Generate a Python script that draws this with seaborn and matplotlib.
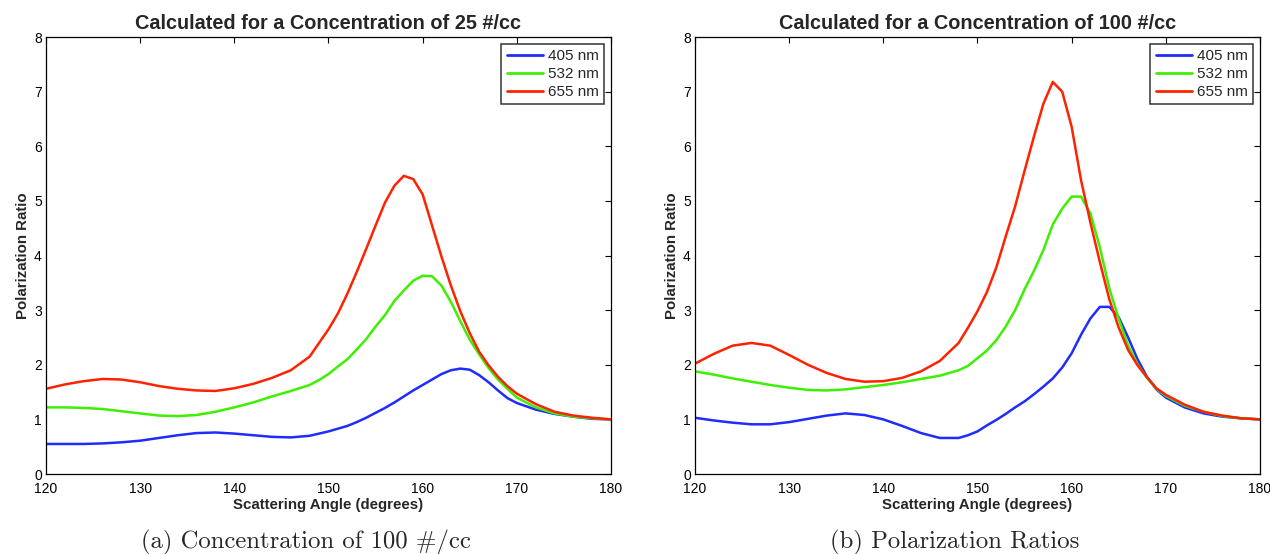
import numpy as np
import pandas as pd
import seaborn as sns
import matplotlib.pyplot as plt

angle = [120, 122, 124, 126, 128, 130, 132, 134, 136, 138, 140, 142, 144, 146, 148,
         149, 150, 151, 152, 153, 154, 155, 156, 157, 158, 159, 160, 161, 162, 163,
         164, 165, 166, 167, 168, 169, 170, 172, 174, 176, 178, 180]

# panel (a): 25 #/cc
a_405 = [0.55, 0.55, 0.55, 0.56, 0.58, 0.61, 0.66, 0.71, 0.75, 0.76, 0.74, 0.71, 0.68, 0.67, 0.70,
         0.74, 0.78, 0.83, 0.88, 0.95, 1.03, 1.12, 1.21, 1.31, 1.42, 1.53, 1.63, 1.73, 1.83, 1.90,
         1.93, 1.91, 1.81, 1.68, 1.53, 1.39, 1.30, 1.18, 1.10, 1.05, 1.01, 1.00]
a_532 = [1.22, 1.22, 1.21, 1.19, 1.15, 1.11, 1.07, 1.06, 1.08, 1.14, 1.22, 1.31, 1.42, 1.52, 1.63,
         1.72, 1.83, 1.97, 2.10, 2.28, 2.47, 2.70, 2.91, 3.17, 3.36, 3.54, 3.63, 3.62, 3.45, 3.15,
         2.80, 2.46, 2.19, 1.94, 1.73, 1.56, 1.40, 1.22, 1.11, 1.05, 1.02, 1.00]
a_655 = [1.56, 1.64, 1.70, 1.74, 1.73, 1.68, 1.61, 1.56, 1.53, 1.52, 1.57, 1.65, 1.76, 1.90, 2.15,
         2.40, 2.65, 2.94, 3.30, 3.70, 4.12, 4.55, 4.97, 5.28, 5.46, 5.40, 5.12, 4.55, 3.98, 3.45,
         2.98, 2.58, 2.24, 1.99, 1.78, 1.61, 1.47, 1.28, 1.14, 1.07, 1.03, 1.00]

# panel (b): 100 #/cc
b_405 = [1.03, 0.98, 0.94, 0.91, 0.91, 0.95, 1.01, 1.07, 1.11, 1.08, 1.00, 0.88, 0.75, 0.66, 0.66,
         0.71, 0.78, 0.89, 0.99, 1.10, 1.22, 1.33, 1.46, 1.60, 1.75, 1.95, 2.21, 2.55, 2.85, 3.06,
         3.06, 2.87, 2.50, 2.10, 1.78, 1.55, 1.40, 1.22, 1.11, 1.05, 1.02, 1.00]
b_532 = [1.88, 1.82, 1.75, 1.69, 1.63, 1.58, 1.54, 1.53, 1.55, 1.59, 1.63, 1.68, 1.74, 1.80, 1.90,
         1.98, 2.12, 2.26, 2.45, 2.70, 3.00, 3.38, 3.72, 4.10, 4.57, 4.86, 5.08, 5.08, 4.77, 4.15,
         3.40, 2.84, 2.35, 2.01, 1.76, 1.56, 1.43, 1.25, 1.14, 1.06, 1.02, 1.00]
b_655 = [2.02, 2.20, 2.35, 2.40, 2.35, 2.18, 2.00, 1.85, 1.74, 1.69, 1.70, 1.76, 1.88, 2.07, 2.40,
         2.68, 2.98, 3.33, 3.78, 4.35, 4.90, 5.55, 6.18, 6.78, 7.18, 7.00, 6.36, 5.38, 4.60, 3.88,
         3.20, 2.68, 2.27, 1.99, 1.77, 1.57, 1.45, 1.27, 1.14, 1.07, 1.02, 1.00]

wavelengths = ['405 nm', '532 nm', '655 nm']
colors = ['#1f2bff', '#3cf000', '#ff2200']
titles = ['Calculated for a Concentration of 25 #/cc',
          'Calculated for a Concentration of 100 #/cc']
captions = ['(a) Concentration of 100 #/cc', '(b) Polarization Ratios']


def long_df(series):
    frames = []
    for name, vals in zip(wavelengths, series):
        frames.append(pd.DataFrame({'angle': angle, 'ratio': vals, 'wl': name}))
    return pd.concat(frames)


panels = [long_df([a_405, a_532, a_655]), long_df([b_405, b_532, b_655])]

sns.set_style('white')
plt.rcParams['font.family'] = ['Liberation Sans', 'DejaVu Sans']

fig = plt.figure(figsize=(12.70, 5.54), dpi=100)
axes = [fig.add_axes([0.0362, 0.1444, 0.4449, 0.7886]),
        fig.add_axes([0.5472, 0.1444, 0.4449, 0.7886])]

for ax, df, title, cap in zip(axes, panels, titles, captions):
    sns.lineplot(data=df, x='angle', y='ratio', hue='wl', palette=colors,
                 linewidth=1.8, ax=ax, sort=False)
    ax.set_xlim(120, 180)
    ax.set_ylim(0, 8)
    ax.set_xticks(range(120, 181, 10))
    ax.set_yticks(range(0, 9))
    ax.tick_params(direction='in', top=True, right=True, length=4, width=0.8,
                   labelsize=10, colors='black')
    ax.tick_params(axis='x', pad=6)
    ax.tick_params(axis='y', pad=3)
    for s in ax.spines.values():
        s.set_color('black')
        s.set_linewidth(0.9)
    ax.set_title(title, fontsize=14.3, fontweight='bold', pad=6)
    ax.set_xlabel('Scattering Angle (degrees)', fontsize=10.8, fontweight='bold', labelpad=1.5)
    ax.set_ylabel('Polarization Ratio', fontsize=10.8, fontweight='bold', labelpad=3)
    leg = ax.legend(loc='upper right', fontsize=11, frameon=True, fancybox=False,
                    borderaxespad=0.45, handlelength=2.4, handletextpad=0.3,
                    labelspacing=0.25, borderpad=0.35)
    leg.get_frame().set_edgecolor('black')
    leg.get_frame().set_linewidth(1.1)
    for line in leg.get_lines():
        line.set_linewidth(2.0)
    bb = ax.get_position()
    fig.text((bb.x0 + bb.x1) / 2 - 0.018, 0.021, cap, ha='center', va='center',
             fontsize=17.8, family=['cmr10', 'DejaVu Serif'])

fig.savefig('out.png', dpi=100)
